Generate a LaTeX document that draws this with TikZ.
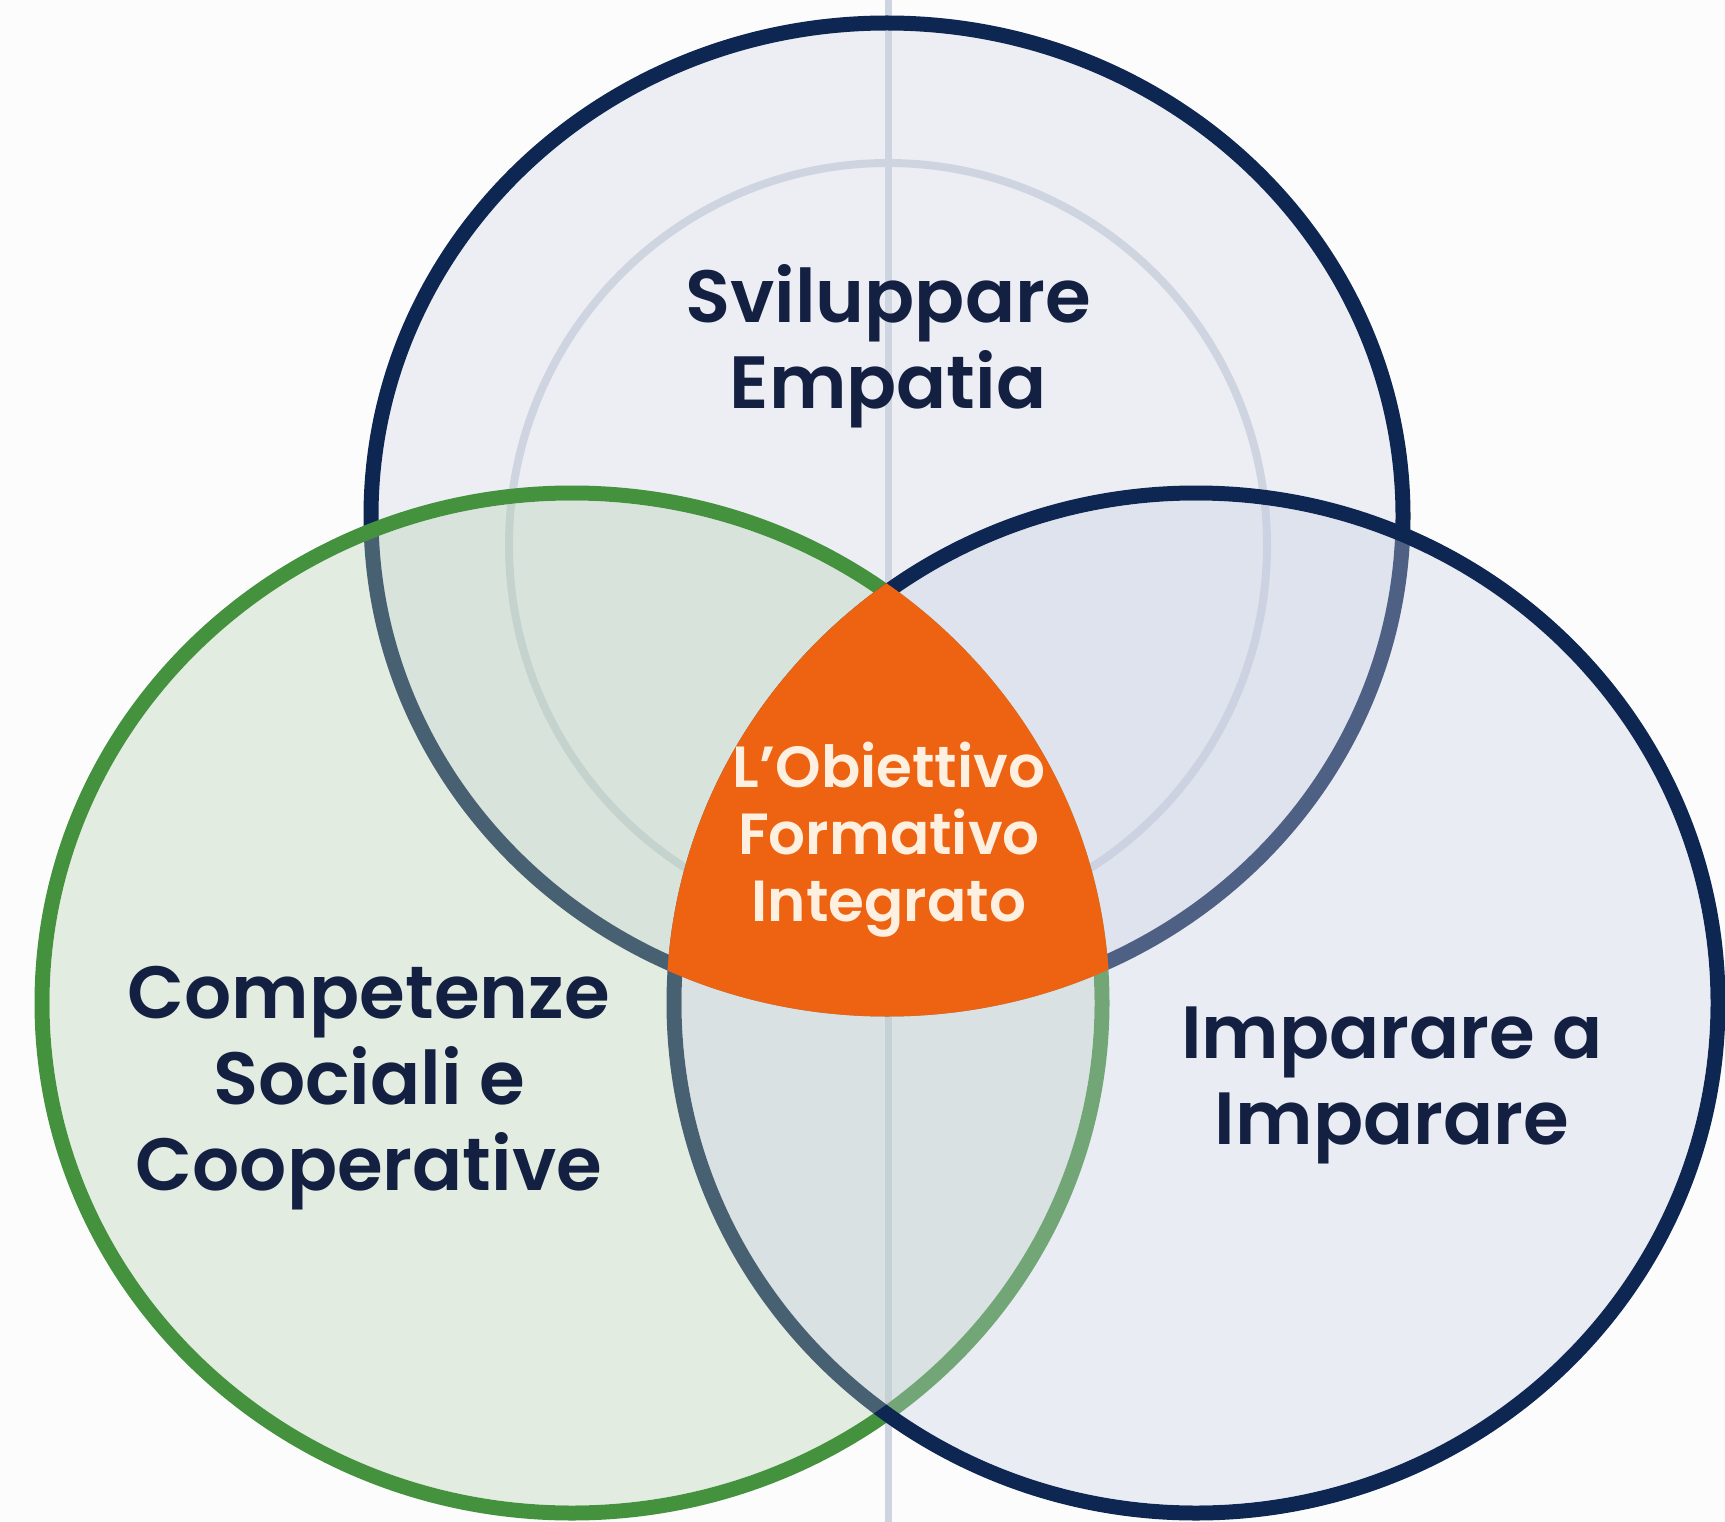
\documentclass[tikz,border=0pt]{standalone}
\usepackage{fontspec}
\setmainfont{Poppins}[BoldFont={Poppins SemiBold}]
\definecolor{navy}{RGB}{14,38,82}
\definecolor{leaf}{RGB}{68,145,62}
\definecolor{ink}{RGB}{20,32,66}
\definecolor{flame}{RGB}{238,99,18}
\definecolor{cream}{RGB}{253,240,224}
\definecolor{topfill}{RGB}{236,238,243}
\definecolor{greenfill}{RGB}{181,209,175}
\definecolor{bluefill}{RGB}{200,207,228}
\definecolor{guide}{RGB}{207,213,224}
\definecolor{paper}{RGB}{252,252,252}
\begin{document}
\begin{tikzpicture}[x=1pt,y=-1pt,
  ringlabel/.style={font=\bfseries\fontsize{74}{86}\selectfont, text=ink, align=center, inner sep=0pt},
  corelabel/.style={font=\bfseries\fontsize{58}{67}\selectfont, text=cream, align=center, inner sep=0pt},
  rim/.style={line width=15pt},
  thin guide/.style={draw=guide, line width=7pt}]

% canvas
\fill[paper] (0,0) rectangle (1725,1522);
\useasboundingbox (0,0) rectangle (1725,1522);

% centres of the three sets
\coordinate (T) at (887,516);
\coordinate (G) at (572,1003);
\coordinate (R) at (1196,1003);
\coordinate (axtop) at (888,0);
\coordinate (axbot) at (888,1522);

% top set: solid fill, inner guide ring, vertical axis, outline
\fill[topfill] (T) ellipse [x radius=516pt, y radius=493pt];
\draw[thin guide, line width=8pt] (888,545) ellipse [x radius=379pt, y radius=382pt];
\draw[thin guide] (axtop) -- (axbot);
\draw[rim, navy] (T) ellipse [x radius=516pt, y radius=493pt];

% lower sets: outlines first, translucent fills over them
\draw[rim, leaf] (G) ellipse [x radius=530pt, y radius=510pt];
\draw[rim, navy] (R) ellipse [x radius=522pt, y radius=510pt];
\fill[greenfill, fill opacity=0.35] (G) ellipse [x radius=522.5pt, y radius=502.5pt];
\fill[bluefill, fill opacity=0.35] (R) ellipse [x radius=514.5pt, y radius=502.5pt];

% common intersection
\begin{scope}
  \clip (G) ellipse [x radius=537.5pt, y radius=517.5pt];
  \clip (R) ellipse [x radius=529.5pt, y radius=517.5pt];
  \fill[flame] (T) ellipse [x radius=523.5pt, y radius=500.5pt];
\end{scope}

% labels
\node[ringlabel] (empathy) at (888,346) {Sviluppare\\Empatia};
\node[ringlabel] (social) at (369,1088) {Competenze\\Sociali e\\Cooperative};
\node[ringlabel] (learn) at (1392,1085) {Imparare a\\Imparare};
\node[corelabel] (goal) at (889,840) {L’Obiettivo\\Formativo\\Integrato};
\end{tikzpicture}
\end{document}
